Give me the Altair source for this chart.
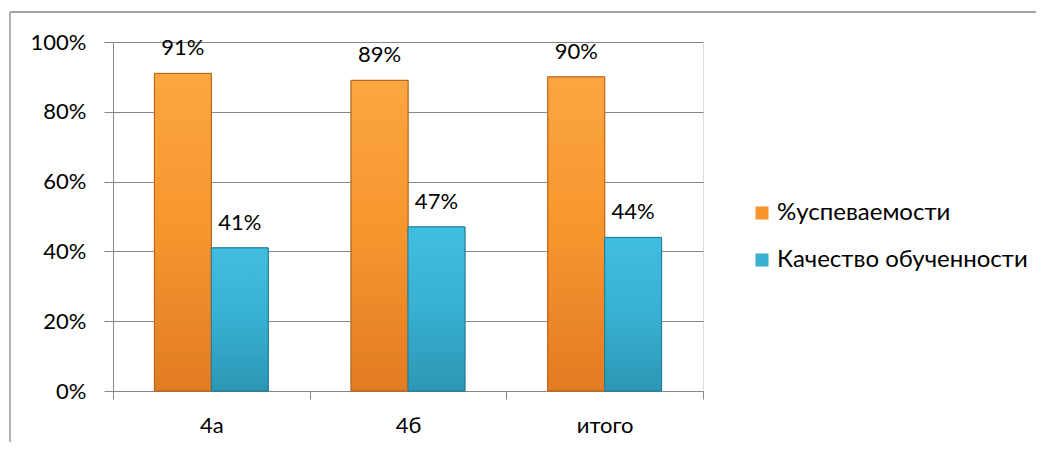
import altair as alt
import pandas as pd

categories = ["4а", "4б", "итого"]
series = ["%успеваемости", "Качество обученности"]
uspevaemost = [0.91, 0.89, 0.90]
kachestvo = [0.41, 0.47, 0.44]
colors = ["#F7952E", "#38B0D2"]
y_ticks = [0, 0.2, 0.4, 0.6, 0.8, 1.0]

rows = []
for i, c in enumerate(categories):
    rows.append({"cat": c, "series": series[0], "value": uspevaemost[i]})
    rows.append({"cat": c, "series": series[1], "value": kachestvo[i]})
df = pd.DataFrame(rows)

FONT = "Lato"
GRID = "#868686"

x_enc = alt.X("cat:N", sort=categories,
              scale=alt.Scale(paddingInner=0, paddingOuter=0),
              axis=alt.Axis(title=None, labelAngle=0, tickBand="extent", tickSize=8,
                            tickColor=GRID, domainColor=GRID, labelFontSize=22,
                            labelPadding=16, labelColor="black", labelFont=FONT))
xo_enc = alt.XOffset("series:N", sort=series,
                     scale=alt.Scale(paddingInner=0, paddingOuter=0.728))
y_enc = alt.Y("value:Q", scale=alt.Scale(domain=[0, 1], nice=False),
              axis=alt.Axis(title=None, values=y_ticks, format=".0%", grid=True,
                            gridColor=GRID, gridWidth=1, domainColor=GRID, tickColor=GRID,
                            tickSize=9, labelPadding=18, labelFontSize=22,
                            labelColor="black", labelFont=FONT))

base = alt.Chart(df)

bars = base.mark_bar(strokeWidth=1).encode(
    x=x_enc, xOffset=xo_enc, y=y_enc,
    color=alt.Color("series:N", sort=series,
                    scale=alt.Scale(domain=series, range=colors),
                    legend=alt.Legend(title=None, orient="none", legendX=637, legendY=159,
                                      symbolType="square", symbolSize=170,
                                      symbolStrokeWidth=0, labelFontSize=24,
                                      labelFont=FONT, labelColor="black",
                                      labelOffset=3, labelLimit=500, rowPadding=23)),
    stroke=alt.Stroke("series:N", sort=series,
                      scale=alt.Scale(domain=series, range=["#B8641C", "#1E7D98"]),
                      legend=None),
)

grad_orange = base.transform_filter(alt.datum.series == series[0]).mark_bar(
    stroke="#B8641C", strokeWidth=1,
    fill=alt.Gradient(gradient="linear", x1=0, x2=0, y1=0, y2=1,
                      stops=[alt.GradientStop(color="#FBA640", offset=0),
                             alt.GradientStop(color="#F7952E", offset=0.5),
                             alt.GradientStop(color="#E27B22", offset=1)])
).encode(x=x_enc, xOffset=xo_enc, y=y_enc)

grad_blue = base.transform_filter(alt.datum.series == series[1]).mark_bar(
    stroke="#1E7D98", strokeWidth=1,
    fill=alt.Gradient(gradient="linear", x1=0, x2=0, y1=0, y2=1,
                      stops=[alt.GradientStop(color="#40BEE0", offset=0),
                             alt.GradientStop(color="#38B0D2", offset=0.5),
                             alt.GradientStop(color="#2C96B4", offset=1)])
).encode(x=x_enc, xOffset=xo_enc, y=y_enc)

labels = base.mark_text(dy=-18, baseline="alphabetic", fontSize=22, font=FONT,
                        color="black").encode(
    x=x_enc, xOffset=xo_enc, y=y_enc,
    text=alt.Text("value:Q", format=".0%"),
)

frame_df = pd.DataFrame({"k": [0]})
frame_top = alt.Chart(frame_df).mark_rule(color=GRID, strokeWidth=1.3).encode(
    x=alt.value(-103), x2=alt.value(923), y=alt.value(-30))
frame_left = alt.Chart(frame_df).mark_rule(color=GRID, strokeWidth=1.3).encode(
    x=alt.value(-103), y=alt.value(-30), y2=alt.value(400))

chart = alt.layer(bars, grad_orange, grad_blue, labels, frame_top, frame_left).properties(
    width=590, height=349,
    autosize=alt.AutoSizeParams(type="none"),
    padding={"left": 105, "top": 34, "right": 333, "bottom": 51},
).configure_view(stroke=None).configure(font=FONT)

chart.save("out.html", embed_options={"renderer": "svg", "actions": False})
